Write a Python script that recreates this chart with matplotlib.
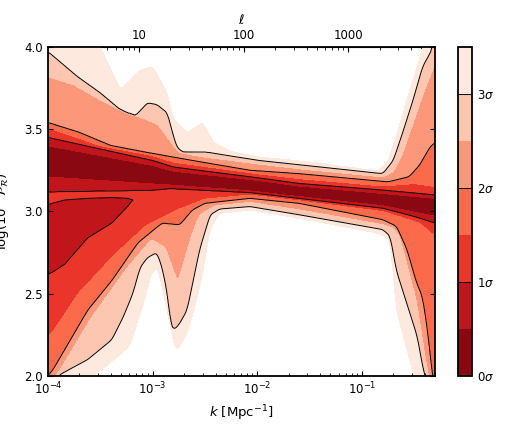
import numpy as np
import matplotlib
matplotlib.use('Agg')
import matplotlib.pyplot as plt
from matplotlib.ticker import FixedLocator, FixedFormatter, LogLocator, NullFormatter

plt.rcParams['mathtext.fontset'] = 'dejavusans'
plt.rcParams['font.size'] = 8.5

# contour boundaries: nodes in log10(k), values in log(10^10 P_R)
mid_k = [-4.0, -2.8, -2.0, -1.6, -0.8, -0.3]
mid_y = [3.30, 3.21, 3.16, 3.12, 3.07, 3.03]

up05_k = [-4.0, -3.0, -2.8, -2.0, -1.6, -0.8, -0.3]
up05_y = [3.40, 3.28, 3.245, 3.19, 3.155, 3.11, 3.08]
up1_k = [-4.0, -3.0, -2.8, -2.0, -1.6, -0.8, -0.3]
up1_y = [3.45, 3.31, 3.27, 3.205, 3.17, 3.13, 3.10]
up15_k = [-4.0, -3.5, -3.0, -2.8, -2.0, -1.6, -0.8, -0.5, -0.3]
up15_y = [3.51, 3.40, 3.34, 3.30, 3.23, 3.20, 3.155, 3.17, 3.15]
up2_k = [-4.0, -3.7, -3.4, -3.07, -2.8, -2.07, -1.6, -0.75, -0.55, -0.45, -0.35, -0.3]
up2_y = [3.54, 3.48, 3.40, 3.36, 3.33, 3.25, 3.23, 3.18, 3.21, 3.28, 3.39, 3.42]
up25_k = [-4.0, -3.75, -3.5, -3.25, -3.1, -2.95, -2.8, -2.75, -2.5, -2.0, -1.6,
          -0.8, -0.7, -0.6, -0.5, -0.4, -0.35, -0.3]
up25_y = [3.82, 3.77, 3.68, 3.60, 3.57, 3.53, 3.40, 3.36, 3.33, 3.29, 3.26,
          3.21, 3.24, 3.37, 3.56, 3.74, 3.82, 3.90]
up3_k = [-4.0, -3.96, -3.72, -3.50, -3.22, -3.15, -3.05, -2.96, -2.86, -2.81, -2.77,
         -2.71, -2.48, -1.98, -0.80, -0.70, -0.61, -0.51, -0.42, -0.35, -0.32, -0.3]
up3_y = [3.97, 3.95, 3.82, 3.72, 3.57, 3.59, 3.66, 3.65, 3.60, 3.48, 3.39,
         3.36, 3.36, 3.31, 3.23, 3.31, 3.48, 3.68, 3.88, 3.96, 4.0, 4.2]
up35_k = [-4.0, -3.6, -3.5, -3.31, -3.12, -3.0, -2.86, -2.81, -2.67, -2.52, -2.42,
          -2.23, -1.98, -1.5, -0.85, -0.75, -0.65, -0.55, -0.45, -0.4, -0.3]
up35_y = [4.15, 4.05, 4.0, 3.74, 3.86, 3.88, 3.72, 3.57, 3.48, 3.54, 3.42,
          3.36, 3.33, 3.30, 3.245, 3.30, 3.50, 3.72, 3.92, 4.05, 4.3]

lo05_k = [-4.0, -2.83, -2.07, -1.6, -0.8, -0.3]
lo05_y = [3.21, 3.16, 3.125, 3.09, 3.035, 2.97]
lo1_k = [-4.0, -3.0, -2.83, -2.07, -1.6, -0.8, -0.5, -0.3]
lo1_y = [3.12, 3.13, 3.14, 3.115, 3.08, 3.02, 2.97, 2.93]
lo15_k = [-4.0, -3.96, -3.71, -3.39, -3.07, -2.76, -2.5, -2.07, -1.6, -0.8, -0.45, -0.3]
lo15_y = [2.24, 2.26, 2.50, 2.72, 2.91, 3.01, 3.075, 3.10, 3.065, 3.0, 2.93, 2.85]
lo2_k = [-4.0, -3.95, -3.62, -3.39, -3.14, -2.91, -2.74, -2.62, -2.5, -2.07, -1.6,
         -0.8, -0.67, -0.57, -0.48, -0.42, -0.37, -0.33, -0.3]
lo2_y = [2.0, 2.04, 2.40, 2.58, 2.81, 2.93, 2.92, 3.01, 3.05, 3.08, 3.05,
         2.95, 2.91, 2.77, 2.57, 2.48, 2.26, 2.02, 1.9]
lo25_k = [-4.0, -3.9, -3.58, -3.24, -3.01, -2.88, -2.76, -2.62, -2.55, -2.4, -2.07,
          -1.6, -0.8, -0.7, -0.64, -0.48, -0.38, -0.3]
lo25_y = [1.95, 2.02, 2.36, 2.66, 2.83, 2.78, 2.57, 2.87, 2.98, 3.035, 3.055,
          3.01, 2.92, 2.90, 2.85, 2.46, 2.05, 1.8]
lo3_k = [-4.0, -3.885, -3.62, -3.39, -3.28, -3.19, -3.12, -3.05, -2.96, -2.91, -2.86,
         -2.83, -2.80, -2.75, -2.67, -2.55, -2.45, -2.36, -2.07, -1.6, -0.8, -0.73,
         -0.67, -0.57, -0.47, -0.41, -0.38, -0.3]
lo3_y = [1.9, 2.01, 2.10, 2.22, 2.36, 2.50, 2.66, 2.72, 2.75, 2.66, 2.50,
         2.32, 2.28, 2.31, 2.40, 2.77, 2.98, 3.015, 3.03, 2.98, 2.89, 2.85,
         2.64, 2.44, 2.24, 2.03, 1.97, 1.7]
lo35_k = [-4.0, -3.6, -3.56, -3.22, -3.08, -3.01, -2.95, -2.88, -2.79, -2.76, -2.67,
          -2.58, -2.52, -2.45, -2.36, -2.07, -1.6, -0.85, -0.75, -0.71, -0.70, -0.67,
          -0.57, -0.51, -0.45, -0.3]
lo35_y = [1.7, 1.95, 2.0, 2.18, 2.46, 2.63, 2.66, 2.46, 2.18, 2.16, 2.26,
          2.46, 2.64, 2.90, 2.99, 3.01, 2.96, 2.87, 2.84, 2.75, 2.60, 2.40,
          2.16, 2.02, 1.8, 1.5]

# secondary 1-sigma island at low k
isl_k = [-4.0, -3.96, -3.84, -3.62, -3.39, -3.24, -3.19]
isl_top = [3.04, 3.05, 3.07, 3.08, 3.085, 3.08, 3.07]
isl_bot = [2.62, 2.63, 2.68, 2.84, 2.93, 3.03, 3.07]

sig_levels = [0, 0.5, 1, 1.5, 2, 2.5, 3, 3.5]
cb_ticks = [0, 1, 2, 3]
cb_labels = [r'$0\sigma$', r'$1\sigma$', r'$2\sigma$', r'$3\sigma$']
ell_ticks = [10, 100, 1000]
ell_per_k = 13500.0

logk = np.linspace(-4, np.log10(0.5), 700)
yy = np.linspace(1.95, 4.05, 600)


def edge(kn, yn, w=9):
    # boundary along k, lightly smoothed so the corners are not sharp
    e = np.interp(logk, kn, yn)
    p = np.pad(e, w, mode='edge')
    return np.convolve(p, np.ones(w) / w, mode='same')[w:-w]


upper = [(up05_k, up05_y), (up1_k, up1_y), (up15_k, up15_y), (up2_k, up2_y),
         (up25_k, up25_y), (up3_k, up3_y), (up35_k, up35_y)]
lower = [(lo05_k, lo05_y), (lo1_k, lo1_y), (lo15_k, lo15_y), (lo2_k, lo2_y),
         (lo25_k, lo25_y), (lo3_k, lo3_y), (lo35_k, lo35_y)]

c = edge(mid_k, mid_y)
ups = [c]
for kn, yn in upper:
    ups.append(np.maximum(edge(kn, yn), ups[-1] + 1e-3))
los = [c]
for kn, yn in lower:
    los.append(np.minimum(edge(kn, yn), los[-1] - 1e-3))

knot_y = np.array([los[-1] - 2] + los[:0:-1] + [c] + ups[1:] + [ups[-1] + 2])
knot_s = np.array([7.5, 3.5, 3, 2.5, 2, 1.5, 1, 0.5, 0, 0.5, 1, 1.5, 2, 2.5, 3, 3.5, 7.5])

S = np.empty((len(yy), len(logk)))
for j in range(len(logk)):
    S[:, j] = np.interp(yy, knot_y[:, j], knot_s)

# island field
ti = edge(isl_k, isl_top, 5)
bi = edge(isl_k, isl_bot, 5)
ic = 0.5 * (ti + bi)
ih = 0.5 * (ti - bi)
Y = yy[:, None]
S_isl = np.maximum(0.55, 1 + 6 * (np.abs(Y - ic[None, :]) - ih[None, :]))
S_isl[:, logk > isl_k[-1]] = 9
S = np.minimum(S, S_isl)

fig = plt.figure(figsize=(5.07, 4.26), dpi=100)
ax = fig.add_axes([48 / 507, 50 / 426, 387 / 507, 329 / 426])
cax = fig.add_axes([458 / 507, 50 / 426, 14 / 507, 329 / 426])

K = 10 ** logk
cf = ax.contourf(K, yy, S, levels=sig_levels, cmap='Reds_r')
cl = ax.contour(K, yy, S, levels=[1, 2, 3], colors='k', linewidths=0.7)

ax.set_xscale('log')
ax.set_xlim(1e-4, 0.5)
ax.set_ylim(2.0, 4.0)
ax.set_yticks([2.0, 2.5, 3.0, 3.5, 4.0])
ax.set_xlabel(r'$k\ [\mathrm{Mpc}^{-1}]$', fontsize=9.5)
ax.set_ylabel(r'$\log(10^{10}\mathcal{P}_\mathcal{R})$', fontsize=9.5)
ax.yaxis.set_label_coords(-0.09, 0.5)
ax.tick_params(which='both', direction='in', right=True, top=False)
for s in ax.spines.values():
    s.set_linewidth(1.3)

sec = ax.secondary_xaxis('top', functions=(lambda k: k * ell_per_k, lambda l: l / ell_per_k))
sec.xaxis.set_major_locator(FixedLocator(ell_ticks))
sec.xaxis.set_major_formatter(FixedFormatter([str(t) for t in ell_ticks]))
sec.xaxis.set_minor_locator(LogLocator(subs=np.arange(2, 10)))
sec.xaxis.set_minor_formatter(NullFormatter())
sec.tick_params(which='both', direction='in')
sec.set_xlabel(r'$\ell$', fontsize=9.5)

cb = fig.colorbar(cf, cax=cax, ticks=cb_ticks)
cb.set_ticklabels(cb_labels)
cb.add_lines(cl)
cb.outline.set_linewidth(1.3)
cax.tick_params(length=0)

fig.savefig('out.png', dpi=100)
